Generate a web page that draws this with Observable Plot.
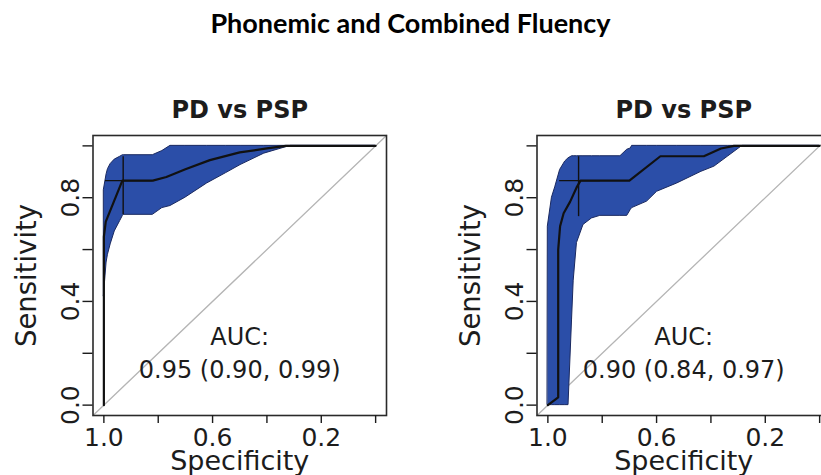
<!DOCTYPE html>
<html>
<head>
<meta charset="utf-8">
<script src="https://cdn.jsdelivr.net/npm/d3@7"></script>
<script src="https://cdn.jsdelivr.net/npm/@observablehq/plot@0.6"></script>
<style>
  html, body { margin: 0; padding: 0; background: #fff; }
  #chart { position: relative; width: 821px; height: 475px; overflow: hidden; background: #fff; }
  #title {
    position: absolute; left: 0; top: 9px; width: 821px; text-align: center;
    font-family: Lato, "Open Sans", sans-serif; font-weight: bold; font-size: 27px;
    line-height: 27px; color: #000;
  }
  .panel { position: absolute; top: 0; }
</style>
</head>
<body>
<div id="chart">
  <div id="title">Phonemic and Combined Fluency</div>
</div>
<script>
// Axis ticks (specificity runs from 1 on the left to 0 on the right)
const specTicks = [1.0, 0.8, 0.6, 0.4, 0.2, 0.0];
const specTickLabels = ["1.0", "", "0.6", "", "0.2", ""];
const sensTicks = [0.0, 0.2, 0.4, 0.6, 0.8, 1.0];
const sensTickLabels = ["0.0", "", "0.4", "", "0.8", ""];

// Phonemic fluency: PD vs PSP
const phonTitle = "PD vs PSP";
const phonRocSpec = [1.0, 1.0, 0.993, 0.932, 0.82, 0.77, 0.70, 0.61, 0.50, 0.40, 0.33, 0.0];
const phonRocSens = [0.0, 0.65, 0.708, 0.866, 0.866, 0.88, 0.91, 0.945, 0.975, 0.99, 1.0, 1.0];
const phonBandSpec = [1.0, 0.99, 0.985, 0.975, 0.96, 0.94, 0.93, 0.927, 0.82, 0.785, 0.755, 0.70, 0.62, 0.55, 0.497, 0.41, 0.313, 0.0];
const phonBandLo   = [0.42, 0.55, 0.58, 0.62, 0.67, 0.71, 0.73, 0.734, 0.734, 0.76, 0.768, 0.80, 0.855, 0.895, 0.926, 0.97, 1.0, 1.0];
const phonBandHi   = [0.83, 0.89, 0.91, 0.93, 0.947, 0.958, 0.964, 0.964, 0.964, 0.98, 1.0, 1.0, 1.0, 1.0, 1.0, 1.0, 1.0, 1.0];
const phonThreshold = {spec: 0.929, sens: 0.866, seLo: 0.734, seHi: 0.958, spLo: 0.822, spHi: 0.994};
const phonAuc = [0.95, 0.90, 0.99];

// Combined fluency: PD vs PSP
const combTitle = "PD vs PSP";
const combRocSpec = [1.0, 0.962, 0.962, 0.955, 0.942, 0.918, 0.893, 0.88, 0.70, 0.586, 0.426, 0.363, 0.315, 0.0];
const combRocSens = [0.0, 0.03, 0.60, 0.69, 0.74, 0.785, 0.842, 0.866, 0.866, 0.96, 0.96, 0.99, 1.0, 1.0];
const combBandSpec = [1.0, 0.985, 0.973, 0.955, 0.936, 0.924, 0.911, 0.905, 0.893, 0.869, 0.838, 0.807, 0.733, 0.708, 0.695, 0.69, 0.635, 0.598, 0.524, 0.435, 0.387, 0.338, 0.284, 0.0];
const combBandLo   = [0.0, 0.0, 0.0, 0.0, 0.0, 0.0, 0.33, 0.48, 0.625, 0.695, 0.72, 0.73, 0.73, 0.73, 0.753, 0.76, 0.785, 0.823, 0.855, 0.90, 0.92, 0.958, 1.0, 1.0];
const combBandHi   = [0.69, 0.80, 0.84, 0.907, 0.94, 0.952, 0.96, 0.96, 0.96, 0.96, 0.96, 0.96, 0.96, 0.985, 0.99, 1.0, 1.0, 1.0, 1.0, 1.0, 1.0, 1.0, 1.0, 1.0];
const combThreshold = {spec: 0.887, sens: 0.866, seLo: 0.727, seHi: 0.958, spLo: 0.807, spHi: 0.957};
const combAuc = [0.90, 0.84, 0.97];

const fmt2 = d3.format(".2f");
const specLabel = new Map(specTicks.map((t, i) => [t, specTickLabels[i]]));
const sensLabel = new Map(sensTicks.map((t, i) => [t, sensTickLabels[i]]));

function rocPanel({title, rocSpec, rocSens, bandSpec, bandLo, bandHi, threshold, auc}) {
  const roc = rocSpec.map((s, i) => ({spec: s, sens: rocSens[i]}));
  const band = bandSpec.map((s, i) => ({spec: s, lo: bandLo[i], hi: bandHi[i]}));
  const xDomain = [1.04, -0.04];
  const yDomain = [-0.04, 1.04];
  // chance diagonal across the whole plotting region
  const chance = xDomain.map(s => ({spec: s, sens: 1 - s}));
  const aucText = `AUC:\n${fmt2(auc[0])} (${fmt2(auc[1])}, ${fmt2(auc[2])})`;

  return Plot.plot({
    width: 444,
    height: 475,
    marginLeft: 92.5,
    marginRight: 58,
    marginTop: 135,
    marginBottom: 60,
    x: {domain: xDomain, label: null},
    y: {domain: yDomain, label: null},
    style: {fontFamily: "DejaVu Sans", fontSize: "25px", color: "#1c1c1c", background: "transparent"},
    marks: [
      Plot.line(chance, {x: "spec", y: "sens", stroke: "#b5b5b5", strokeWidth: 1.3}),
      Plot.areaY(band, {x: "spec", y1: "lo", y2: "hi", fill: "#2b4ea8", stroke: "#1a2960", strokeWidth: 1}),
      Plot.line(roc, {x: "spec", y: "sens", stroke: "#111", strokeWidth: 2.2}),
      Plot.ruleX([threshold], {x: "spec", y1: "seLo", y2: "seHi", stroke: "#111", strokeWidth: 1.4}),
      Plot.ruleY([threshold], {y: "sens", x1: "spLo", x2: "spHi", stroke: "#111", strokeWidth: 1.4}),
      Plot.text([aucText], {x: () => 0.5, y: () => 0.2, text: d => d, fontSize: 24, lineHeight: 1.39, dy: -2.5, fill: "#1c1c1c"}),
      Plot.frame({stroke: "#2a2a2a", strokeWidth: 1.6}),
      Plot.axisX(specTicks, {tickSize: 8, tickPadding: 4.5, tickFormat: d => specLabel.get(d), fontSize: 25, strokeWidth: 1.4, label: null}),
      Plot.axisY(sensTicks, {tickSize: 10, tickPadding: 4.5, tickRotate: -90, tickFormat: d => sensLabel.get(d), fontSize: 25, strokeWidth: 1.4, label: null}),
      Plot.text([title], {frameAnchor: "top", text: d => d, dy: -18, lineAnchor: "bottom", fontWeight: "bold", fontSize: 24}),
      Plot.text(["Specificity"], {frameAnchor: "bottom", text: d => d, dy: 54, textAnchor: "middle", lineAnchor: "bottom", fontSize: 27}),
      Plot.text(["Sensitivity"], {frameAnchor: "left", text: d => d, dx: -57.5, rotate: -90, textAnchor: "middle", lineAnchor: "bottom", fontSize: 27.5})
    ]
  });
}

const chart = document.getElementById("chart");

const left = rocPanel({
  title: phonTitle, rocSpec: phonRocSpec, rocSens: phonRocSens,
  bandSpec: phonBandSpec, bandLo: phonBandLo, bandHi: phonBandHi,
  threshold: phonThreshold, auc: phonAuc
});
left.classList.add("panel");
left.style.left = "0px";
chart.appendChild(left);

const right = rocPanel({
  title: combTitle, rocSpec: combRocSpec, rocSens: combRocSens,
  bandSpec: combBandSpec, bandLo: combBandLo, bandHi: combBandHi,
  threshold: combThreshold, auc: combAuc
});
right.classList.add("panel");
right.style.left = "444.4px";
chart.appendChild(right);
</script>
</body>
</html>
